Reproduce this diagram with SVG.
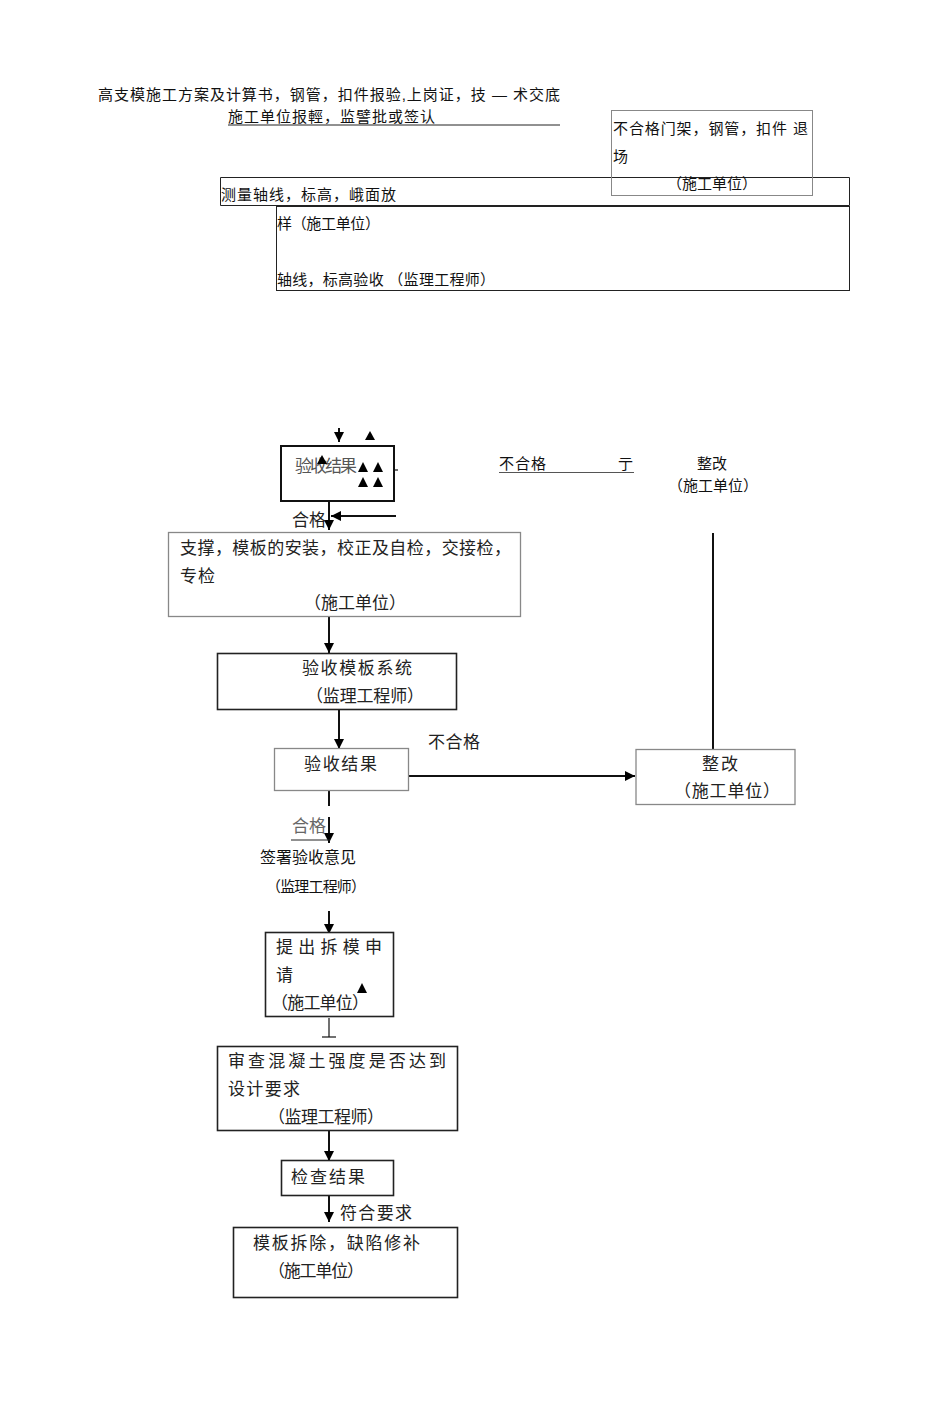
<svg xmlns="http://www.w3.org/2000/svg" width="950" height="1401" viewBox="0 0 950 1401">
<defs>
<style>
.s{font-family:"Liberation Sans","Noto Sans CJK SC",sans-serif;font-size:15px;fill:#111}
.f{font-family:"Liberation Serif","Noto Sans CJK SC",serif;font-size:17px;fill:#222}
.bx{fill:#fff;stroke:#222;stroke-width:1.6}
.gx{fill:#fff;stroke:#888;stroke-width:1.3}
.tx{fill:none;stroke:#222;stroke-width:1}
.ln{fill:none;stroke:#111;stroke-width:2}
.th{fill:none;stroke:#111;stroke-width:1.2}
.tri{fill:#000}
</style>
<marker id="ah" viewBox="0 0 10 10" refX="10" refY="5" markerWidth="10" markerHeight="10" markerUnits="userSpaceOnUse" orient="auto">
<path d="M0,0 L10,5 L0,10 z" fill="#000"/>
</marker>
</defs>
<rect width="950" height="1401" fill="#fff"/>

<g id="top-text">
<text class="s" x="98" y="100" textLength="462" lengthAdjust="spacing">高支模施工方案及计算书，钢管，扣件报验,上岗证，技 — 术交底</text>
<text class="s" x="228" y="122" textLength="207" lengthAdjust="spacing">施工单位报輕，监譬批或签认</text>
<line x1="228" y1="125" x2="560" y2="125" stroke="#222" stroke-width="1"/>
</g>

<g id="node-celiang">
<path class="tx" d="M220.5,177.5 H849.5 V205.5 H220.5 Z"/>
<text class="s" x="221" y="200" textLength="175" lengthAdjust="spacing">测量轴线，标高，峨面放</text>
</g>

<g id="node-tuichang">
<rect x="611.5" y="110.5" width="201" height="85" fill="none" stroke="#888" stroke-width="1"/>
<text class="s" x="613" y="134" textLength="195" lengthAdjust="spacing">不合格门架，钢管，扣件 退</text>
<text class="s" x="613" y="162">场</text>
<text class="s" x="712" y="189" text-anchor="middle">（施工单位）</text>
</g>

<g id="node-yanshou-zhouxian">
<rect class="tx" x="276.5" y="206.5" width="573" height="84"/>
<text class="s" x="277" y="229" textLength="103" lengthAdjust="spacing">样（施工单位）</text>
<text class="s" x="277" y="285" textLength="218" lengthAdjust="spacing">轴线，标高验收 （监理工程师）</text>
</g>

<g id="connectors">
<line class="ln" x1="339" y1="428" x2="339" y2="442" marker-end="url(#ah)"/>
<polygon class="tri" points="370,431 365,440 375,440"/>
<line class="th" x1="394" y1="470" x2="398" y2="470"/>
<line class="ln" x1="329" y1="501" x2="329" y2="530" marker-end="url(#ah)"/>
<line class="ln" x1="396" y1="516" x2="331" y2="516" marker-end="url(#ah)"/>
<line x1="499" y1="472.5" x2="634" y2="472.5" stroke="#555" stroke-width="1.2"/>
<line class="ln" x1="713" y1="533" x2="713" y2="749"/>
<line class="ln" x1="329" y1="617" x2="329" y2="653" marker-end="url(#ah)"/>
<line class="ln" x1="339" y1="710" x2="339" y2="749" marker-end="url(#ah)"/>
<line class="ln" x1="408" y1="776" x2="635" y2="776" marker-end="url(#ah)"/>
<line class="ln" x1="329" y1="791" x2="329" y2="806"/>
<line class="ln" x1="329" y1="817" x2="329" y2="843" marker-end="url(#ah)"/>
<line x1="291" y1="840" x2="330" y2="840" stroke="#222" stroke-width="1"/>
<line class="ln" x1="329" y1="911" x2="329" y2="934" marker-end="url(#ah)"/>
<line class="th" x1="329" y1="1018" x2="329" y2="1037"/>
<line class="th" x1="322" y1="1037" x2="336" y2="1037"/>
<line class="ln" x1="329" y1="1131" x2="329" y2="1161" marker-end="url(#ah)"/>
<line class="ln" x1="329" y1="1196" x2="329" y2="1222" marker-end="url(#ah)"/>
</g>

<g id="node-yanshou-jieguo-1">
<rect x="281" y="446" width="113" height="55" fill="none" stroke="#111" stroke-width="2"/>
<text class="f" x="295" y="472" textLength="62" lengthAdjust="spacing" style="fill:#555">验收结果</text>
<polygon class="tri" points="322,455 317,464 327,464"/>
<polygon class="tri" points="363,462 358,472 368,472"/>
<polygon class="tri" points="378,462 373,472 383,472"/>
<polygon class="tri" points="363,477 358,487 368,487"/>
<polygon class="tri" points="378,477 373,487 383,487"/>
</g>

<g id="label-hege-1">
<text class="f" x="292" y="526" textLength="34" lengthAdjust="spacing">合格</text>
</g>

<g id="label-buhege-1">
<text class="s" x="499" y="469" textLength="47" lengthAdjust="spacing">不合格</text>
<text class="s" x="618" y="469">亍</text>
</g>

<g id="node-zhenggai-1">
<text class="s" x="712" y="469" text-anchor="middle">整改</text>
<text class="s" x="713" y="491" text-anchor="middle">（施工单位）</text>
</g>

<g id="node-zhicheng">
<rect class="gx" x="168.5" y="532.5" width="352" height="84"/>
<text class="f" x="180" y="554" textLength="331" lengthAdjust="spacing">支撑，模板的安装，校正及自检，交接检，</text>
<text class="f" x="180" y="582" textLength="35" lengthAdjust="spacing">专检</text>
<text class="f" x="304" y="609" textLength="102" lengthAdjust="spacing">（施工单位）</text>
</g>

<g id="node-yanshou-moban">
<rect class="bx" x="217.5" y="653.5" width="239" height="56"/>
<text class="f" x="302" y="674" textLength="110" lengthAdjust="spacing">验收模板系统</text>
<text class="f" x="306" y="702" textLength="118" lengthAdjust="spacing">（监理工程师）</text>
</g>

<g id="node-yanshou-jieguo-2">
<rect class="gx" x="274.5" y="748.5" width="134" height="42"/>
<text class="f" x="304" y="770" textLength="73" lengthAdjust="spacing">验收结果</text>
</g>

<g id="label-buhege-2">
<text class="f" x="428" y="748" textLength="52" lengthAdjust="spacing">不合格</text>
</g>

<g id="node-zhenggai-2">
<rect class="gx" x="636" y="749.5" width="159" height="55"/>
<text class="f" x="720" y="770" text-anchor="middle" textLength="36" lengthAdjust="spacing">整改</text>
<text class="f" x="674" y="797" textLength="106" lengthAdjust="spacing">（施工单位）</text>
</g>

<g id="label-hege-2">
<text class="f" x="292" y="832" textLength="34" lengthAdjust="spacing" style="fill:#666">合格</text>
</g>

<g id="node-qianshu">
<text class="s" x="260" y="863" textLength="96" lengthAdjust="spacing" style="font-size:16px">签署验收意见</text>
<text class="s" x="266" y="892" textLength="100" lengthAdjust="spacing">（监理工程师）</text>
</g>

<g id="node-chaimo">
<rect class="bx" x="265.5" y="932.5" width="128" height="84"/>
<text class="f" x="276" y="953" textLength="106" lengthAdjust="spacing">提出拆模申</text>
<text class="f" x="276" y="981">请</text>
<text class="f" x="271" y="1009" textLength="98" lengthAdjust="spacing">（施工单位）</text>
<polygon class="tri" points="362,983 357,993 367,993"/>
</g>

<g id="node-shencha">
<rect class="bx" x="217.5" y="1046.5" width="240" height="84"/>
<text class="f" x="228" y="1067" textLength="218" lengthAdjust="spacing">审查混凝土强度是否达到</text>
<text class="f" x="228" y="1095" textLength="72" lengthAdjust="spacing">设计要求</text>
<text class="f" x="268" y="1123" textLength="116" lengthAdjust="spacing">（监理工程师）</text>
</g>

<g id="node-jiancha">
<rect class="bx" x="281.5" y="1160.5" width="112" height="35"/>
<text class="f" x="291" y="1183" textLength="74" lengthAdjust="spacing">检查结果</text>
</g>

<g id="label-fuhe">
<text class="f" x="340" y="1219" textLength="72" lengthAdjust="spacing">符合要求</text>
</g>

<g id="node-chaichu">
<rect class="bx" x="233.5" y="1227.5" width="224" height="70"/>
<text class="f" x="253" y="1249" textLength="167" lengthAdjust="spacing">模板拆除，缺陷修补</text>
<text class="f" x="268" y="1277" textLength="96" lengthAdjust="spacing">（施工单位）</text>
</g>
</svg>
